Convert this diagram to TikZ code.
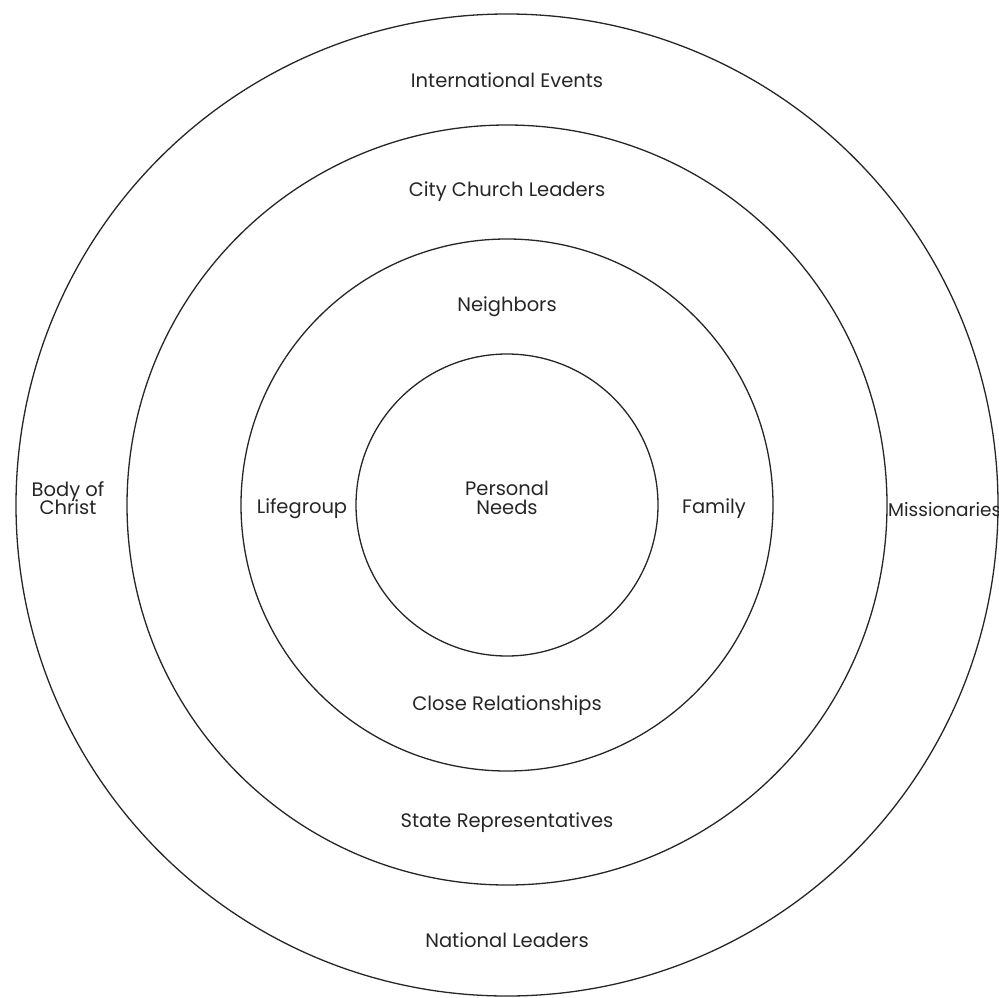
\documentclass[tikz,border=0pt]{standalone}
\usepackage{fontspec}
\setmainfont{Poppins}
\newcommand\mytightlines{\lineskiplimit-20pt\relax}
\begin{document}
\begin{tikzpicture}[x=1pt,y=-1pt,
  ring/.style={draw=black!85,line width=1.3pt},
  lbl/.style={font=\fontsize{19.5}{18.5}\selectfont\mytightlines,text=black!85,align=center,inner sep=0pt}]
\useasboundingbox (0,0) rectangle (998,998);
\coordinate (c) at (507,505);
\draw[ring] (c) circle[radius=491];
\draw[ring] (c) circle[radius=380];
\draw[ring] (c) circle[radius=266];
\draw[ring] (c) circle[radius=151];
\node[lbl] (intl) at (507,80) {International Events};
\node[lbl] (city) at (507,192) {City Church Leaders};
\node[lbl] (neigh) at (507,307) {Neighbors};
\node[lbl] (body) at (68,498) {Body of\\Christ};
\node[lbl] (life) at (302,509) {Lifegroup};
\node[lbl] (pers) at (507,498) {Personal\\Needs};
\node[lbl] (fam) at (714,509) {Family};
\node[lbl,anchor=west,font=\fontsize{18.5}{18.5}\selectfont] (miss) at (888,510) {Missionaries};
\node[lbl] (close) at (507,706) {Close Relationships};
\node[lbl] (state) at (507,823) {State Representatives};
\node[lbl] (nat) at (507,940) {National Leaders};
\end{tikzpicture}
\end{document}
